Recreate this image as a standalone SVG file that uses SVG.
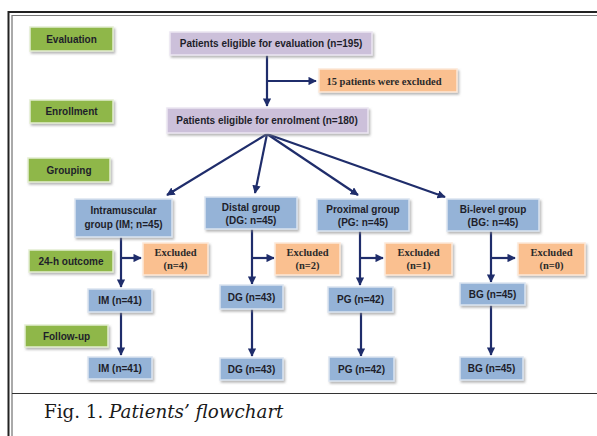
<svg xmlns="http://www.w3.org/2000/svg" width="597" height="436" viewBox="0 0 597 436">
<defs>
<marker id="ah" viewBox="0 0 10 10" refX="9" refY="5" markerWidth="3.8" markerHeight="3.8" orient="auto" markerUnits="strokeWidth">
<path d="M0,0 L10,5 L0,10 z" fill="#1f2d6b"/>
</marker>
<filter id="sh" x="-10%" y="-10%" width="130%" height="140%">
<feDropShadow dx="1.5" dy="2" stdDeviation="0.8" flood-color="#888" flood-opacity="0.6"/>
</filter>
</defs>
<style>
.g{fill:#8fb748;stroke:#e4eed2;stroke-width:1.5;filter:url(#sh)}
.p{fill:#ccc0da;stroke:#ece6f2;stroke-width:1.5;filter:url(#sh)}
.b{fill:#95b3d7;stroke:#dbe5f1;stroke-width:1.5;filter:url(#sh)}
.o{fill:#fac090;stroke:#fde9d9;stroke-width:1.5;filter:url(#sh)}
.t{font-family:"Liberation Sans",Arial,sans-serif;font-weight:bold;font-size:10px;fill:#1e1e2a;text-anchor:middle}
.s{font-family:"Liberation Serif","Times New Roman",serif;font-weight:bold;font-size:10.5px;fill:#2a2a2a;text-anchor:middle}
.c{fill:none;stroke:#1f2d6b;stroke-width:2.2}
.ca{fill:none;stroke:#1f2d6b;stroke-width:2.2;marker-end:url(#ah)}
</style>
<rect width="597" height="436" fill="#fff"/>
<!-- frame -->
<g id="frame">
<line x1="8.5" y1="11" x2="8.5" y2="436" stroke="#222" stroke-width="2"/>
<line x1="12" y1="15" x2="12" y2="436" stroke="#555" stroke-width="1"/>
<line x1="8" y1="12" x2="597" y2="12" stroke="#222" stroke-width="2"/>
<line x1="12" y1="15.5" x2="597" y2="15.5" stroke="#777" stroke-width="1"/>
<line x1="12" y1="393.5" x2="597" y2="393.5" stroke="#333" stroke-width="1.2"/>
</g>
<text x="44" y="418" font-family="'DejaVu Serif','Liberation Serif',serif" font-size="18.3" fill="#1a1a1a">Fig. 1. <tspan font-style="italic">Patients’ flowchart</tspan></text>

<!-- connectors -->
<g id="connectors">
<path class="ca" d="M267,55 V106"/>
<path class="ca" d="M267,81 H316"/>
<path class="ca" d="M267,134 L167,195"/>
<path class="ca" d="M267,134 L255,193"/>
<path class="ca" d="M267,134 L358,195"/>
<path class="ca" d="M267,134 L445,197"/>
<path class="ca" d="M121,237 V287"/>
<path class="ca" d="M121,258 H141"/>
<path class="ca" d="M252,229 V284"/>
<path class="ca" d="M252,258 H274"/>
<path class="ca" d="M360,231 V285"/>
<path class="ca" d="M360,258 H383"/>
<path class="ca" d="M491,231 V282"/>
<path class="ca" d="M491,258 H515"/>
<path class="ca" d="M121,312 V355"/>
<path class="ca" d="M252,309 V356"/>
<path class="ca" d="M361,312 V356"/>
<path class="ca" d="M491,305 V355"/>
</g>

<!-- stage labels -->
<g id="lbl-evaluation"><rect class="g" x="30" y="27" width="83" height="24"/><text class="t" x="71.5" y="42.5">Evaluation</text></g>
<g id="lbl-enrollment"><rect class="g" x="30" y="100" width="83" height="23"/><text class="t" x="71.5" y="115">Enrollment</text></g>
<g id="lbl-grouping"><rect class="g" x="28" y="158" width="82" height="24"/><text class="t" x="69" y="173.5">Grouping</text></g>
<g id="lbl-24h"><rect class="g" x="29" y="250" width="84" height="22"/><text class="t" x="71" y="264.5">24-h outcome</text></g>
<g id="lbl-followup"><rect class="g" x="25" y="325" width="83" height="22"/><text class="t" x="66.5" y="339.5">Follow-up</text></g>

<!-- main nodes -->
<g id="n-eval"><rect class="p" x="170" y="32" width="202" height="23"/><text class="t" x="271" y="47">Patients eligible for evaluation (n=195)</text></g>
<g id="n-excl15"><rect class="o" x="319" y="69" width="138" height="23"/><text class="s" x="384" y="84.5">15 patients were excluded</text></g>
<g id="n-enrol"><rect class="p" x="167" y="108" width="201" height="25"/><text class="t" x="267" y="124">Patients eligible for enrolment (n=180)</text></g>

<g id="n-im"><rect class="b" x="75" y="199" width="97" height="38"/><text class="t" x="123.5" y="214">Intramuscular</text><text class="t" x="123.5" y="227.5">group (IM; n=45)</text></g>
<g id="n-dg"><rect class="b" x="205" y="197" width="92" height="32"/><text class="t" x="251" y="211">Distal group</text><text class="t" x="251" y="224">(DG: n=45)</text></g>
<g id="n-pg"><rect class="b" x="317" y="199" width="92" height="32"/><text class="t" x="363" y="213">Proximal group</text><text class="t" x="363" y="226">(PG: n=45)</text></g>
<g id="n-bg"><rect class="b" x="447" y="199" width="92" height="32"/><text class="t" x="493" y="213">Bi-level group</text><text class="t" x="493" y="226">(BG: n=45)</text></g>

<g id="n-ex-im"><rect class="o" x="143" y="243" width="65" height="32"/><text class="s" x="175.5" y="256">Excluded</text><text class="s" x="175.5" y="269">(n=4)</text></g>
<g id="n-ex-dg"><rect class="o" x="275" y="243" width="65" height="32"/><text class="s" x="307.5" y="256">Excluded</text><text class="s" x="307.5" y="269">(n=2)</text></g>
<g id="n-ex-pg"><rect class="o" x="385" y="243" width="67" height="32"/><text class="s" x="418.5" y="256">Excluded</text><text class="s" x="418.5" y="269">(n=1)</text></g>
<g id="n-ex-bg"><rect class="o" x="518" y="243" width="67" height="32"/><text class="s" x="551.5" y="256">Excluded</text><text class="s" x="551.5" y="269">(n=0)</text></g>

<g id="n-im1"><rect class="b" x="88" y="289" width="64" height="23"/><text class="t" x="120" y="304">IM (n=41)</text></g>
<g id="n-dg1"><rect class="b" x="220" y="285" width="63" height="24"/><text class="t" x="251.5" y="300.5">DG (n=43)</text></g>
<g id="n-pg1"><rect class="b" x="328" y="287" width="65" height="25"/><text class="t" x="360.5" y="303">PG (n=42)</text></g>
<g id="n-bg1"><rect class="b" x="460" y="283" width="65" height="22"/><text class="t" x="492.5" y="297.5">BG (n=45)</text></g>

<g id="n-im2"><rect class="b" x="88" y="357" width="64" height="22"/><text class="t" x="120" y="371.5">IM (n=41)</text></g>
<g id="n-dg2"><rect class="b" x="220" y="358" width="63" height="22"/><text class="t" x="251.5" y="372.5">DG (n=43)</text></g>
<g id="n-pg2"><rect class="b" x="329" y="357" width="65" height="24"/><text class="t" x="361.5" y="372.5">PG (n=42)</text></g>
<g id="n-bg2"><rect class="b" x="460" y="357" width="63" height="23"/><text class="t" x="491.5" y="372">BG (n=45)</text></g>
</svg>
